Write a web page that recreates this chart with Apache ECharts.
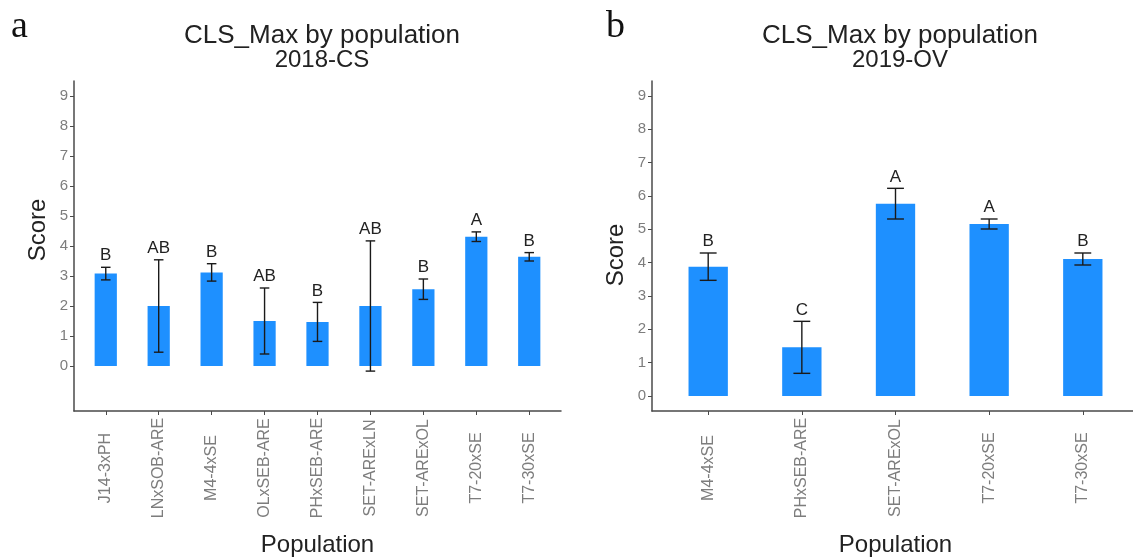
<!DOCTYPE html>
<html>
<head>
<meta charset="utf-8">
<script src="https://cdn.jsdelivr.net/npm/echarts@6/dist/echarts.min.js"></script>
<style>
  html, body { margin: 0; padding: 0; background: #fff; }
  #chart { width: 1133px; height: 557px; }
</style>
</head>
<body>
<div id="chart"></div>
<script>
// Panel a: 2018-CS
const popCS = ['J14-3xPH', 'LNxSOB-ARE', 'M4-4xSE', 'OLxSEB-ARE', 'PHxSEB-ARE', 'SET-ARExLN', 'SET-ARExOL', 'T7-20xSE', 'T7-30xSE'];
const meanCS = [3.08, 2.0, 3.12, 1.5, 1.47, 2.0, 2.56, 4.31, 3.64];
const errCS = [0.21, 1.54, 0.29, 1.1, 0.65, 2.17, 0.34, 0.16, 0.14];
const groupCS = ['B', 'AB', 'B', 'AB', 'B', 'AB', 'B', 'A', 'B'];

// Panel b: 2019-OV
const popOV = ['M4-4xSE', 'PHxSEB-ARE', 'SET-ARExOL', 'T7-20xSE', 'T7-30xSE'];
const meanOV = [3.88, 1.46, 5.77, 5.16, 4.11];
const errOV = [0.41, 0.78, 0.46, 0.15, 0.18];
const groupOV = ['B', 'C', 'A', 'A', 'B'];

const scoreTicks = [0, 1, 2, 3, 4, 5, 6, 7, 8, 9];

const FONT = '"Liberation Sans", Arial, sans-serif';
const SERIF = '"Liberation Serif", "Times New Roman", serif';
const BAR = '#1E90FF';
const AXIS = '#4a4a4a';
const TICKTXT = '#7d7d7d';

function rows(means, errs, groups) {
  return means.map((m, i) => [i, m, m - errs[i], m + errs[i], groups[i]]);
}

function barItem(params, api) {
  const x = api.value(0), y = api.value(1);
  const a = api.coord([x - 0.21, 0]);
  const b = api.coord([x + 0.21, y]);
  return {
    type: 'rect',
    shape: { x: a[0], y: b[1], width: b[0] - a[0], height: a[1] - b[1] },
    style: { fill: BAR }
  };
}

function errItem(params, api) {
  const x = api.value(0);
  const lo = api.coord([x, api.value(2)]);
  const hi = api.coord([x, api.value(3)]);
  const half = api.size([0.09, 0])[0];
  const line = { stroke: '#1a1a1a', lineWidth: 1.4 };
  return {
    type: 'group',
    children: [
      { type: 'line', shape: { x1: lo[0], y1: lo[1], x2: hi[0], y2: hi[1] }, style: line },
      { type: 'line', shape: { x1: lo[0] - half, y1: lo[1], x2: lo[0] + half, y2: lo[1] }, style: line },
      { type: 'line', shape: { x1: hi[0] - half, y1: hi[1], x2: hi[0] + half, y2: hi[1] }, style: line },
      {
        type: 'text',
        style: {
          x: hi[0], y: hi[1] - 3,
          text: api.value(4),
          fill: '#222', font: '17px ' + FONT,
          align: 'center', verticalAlign: 'bottom'
        }
      }
    ]
  };
}

function xAxisFor(grid, cats) {
  return {
    type: 'value', gridIndex: grid,
    min: -0.6, max: cats.length - 0.4,
    splitLine: { show: false },
    axisLine: { show: true, onZero: false, lineStyle: { color: AXIS, width: 1.5 } },
    axisTick: { show: true, length: 4, customValues: cats.map((c, i) => i), lineStyle: { color: AXIS } },
    axisLabel: {
      customValues: cats.map((c, i) => i),
      formatter: v => cats[Math.round(v)],
      rotate: 90, align: 'center', verticalAlign: 'middle', margin: 57,
      color: TICKTXT, fontSize: 16, fontFamily: FONT
    },
    name: 'Population', nameLocation: 'middle', nameGap: 122,
    nameTextStyle: { color: '#222', fontSize: 24, fontFamily: FONT }
  };
}

function yAxisFor(grid, lo, hi, namePad) {
  return {
    type: 'value', gridIndex: grid,
    min: lo, max: hi,
    splitLine: { show: false },
    axisLine: { show: true, onZero: false, lineStyle: { color: AXIS, width: 1.5 } },
    axisTick: { show: true, length: 4, customValues: scoreTicks, lineStyle: { color: AXIS } },
    axisLabel: { customValues: scoreTicks, margin: 6, color: TICKTXT, fontSize: 15, fontFamily: FONT },
    name: 'Score', nameLocation: 'middle', nameGap: 24, nameRotate: 90,
    nameTextStyle: { color: '#222', fontSize: 24, fontFamily: FONT, padding: namePad }
  };
}

function titleText(sub) {
  return '{l1|CLS_Max by population}\n{l2|' + sub + '}';
}
const titleRich = {
  l1: { fontSize: 26, fontWeight: 'normal', fontFamily: FONT, color: '#222', lineHeight: 24 },
  l2: { fontSize: 24, fontWeight: 'normal', fontFamily: FONT, color: '#222', lineHeight: 24 }
};

const chart = echarts.init(document.getElementById('chart'), null, { renderer: 'canvas' });

chart.setOption({
  backgroundColor: '#fff',
  animation: false,
  title: [
    {
      text: titleText('2018-CS'), left: 317, top: 19, textAlign: 'center',
      textStyle: { fontWeight: 'normal', rich: titleRich }
    },
    {
      text: titleText('2019-OV'), left: 895, top: 19, textAlign: 'center',
      textStyle: { fontWeight: 'normal', rich: titleRich }
    },
    {
      text: 'a', left: 6, top: 3,
      textStyle: { color: '#111', fontSize: 38, fontWeight: 'normal', fontFamily: SERIF }
    },
    {
      text: 'b', left: 601, top: 3,
      textStyle: { color: '#111', fontSize: 38, fontWeight: 'normal', fontFamily: SERIF }
    }
  ],
  grid: [
    { left: 74, top: 81, width: 487, height: 330, outerBoundsMode: 'none', containLabel: false },
    { left: 652, top: 81, width: 487, height: 330, outerBoundsMode: 'none', containLabel: false }
  ],
  xAxis: [xAxisFor(0, popCS), xAxisFor(1, popOV)],
  yAxis: [yAxisFor(0, -1.5, 9.5, [0, 0, 0, 32]), yAxisFor(1, -0.45, 9.45, [0, 18, 0, 0])],
  series: [
    { type: 'custom', xAxisIndex: 0, yAxisIndex: 0, renderItem: barItem, data: rows(meanCS, errCS, groupCS) },
    { type: 'custom', xAxisIndex: 0, yAxisIndex: 0, renderItem: errItem, data: rows(meanCS, errCS, groupCS), z: 3 },
    { type: 'custom', xAxisIndex: 1, yAxisIndex: 1, renderItem: barItem, data: rows(meanOV, errOV, groupOV) },
    { type: 'custom', xAxisIndex: 1, yAxisIndex: 1, renderItem: errItem, data: rows(meanOV, errOV, groupOV), z: 3 }
  ]
});
</script>
</body>
</html>
